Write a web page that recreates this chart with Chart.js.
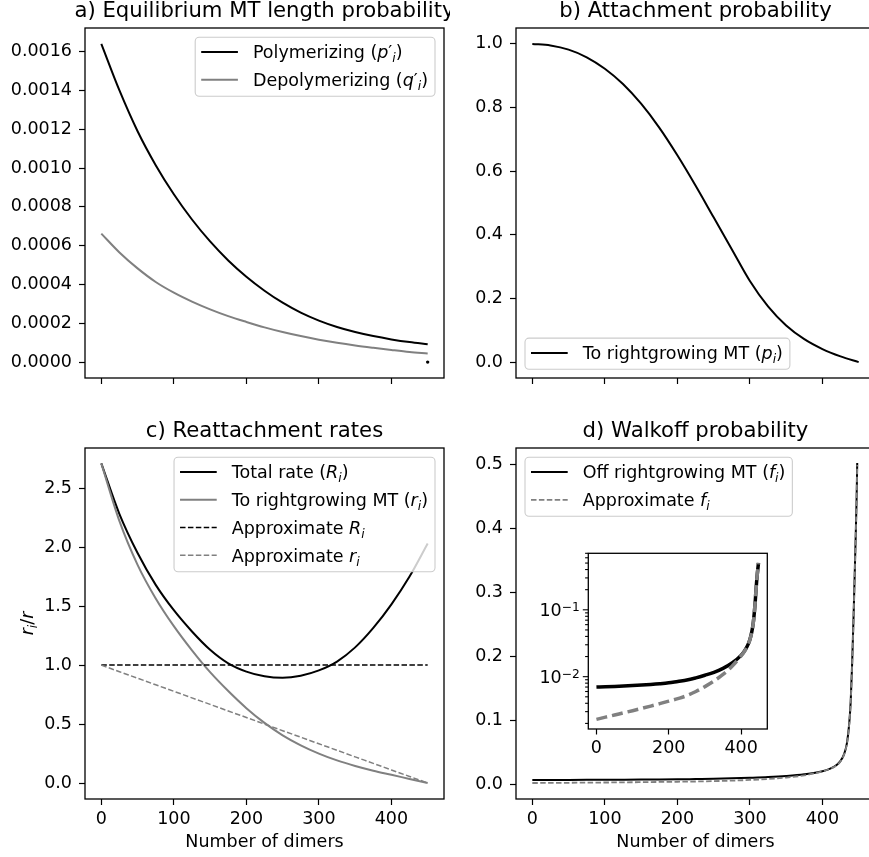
<!DOCTYPE html>
<html>
<head>
<meta charset="utf-8">
<title>MT probabilities</title>
<script src="https://cdn.jsdelivr.net/npm/chart.js@4/dist/chart.umd.min.js"></script>
<style>
html,body{margin:0;padding:0;background:#fff;}
body{width:869px;height:857px;overflow:hidden;}
#wrap{position:relative;width:869px;height:857px;overflow:hidden;background:#fff;}
#wrap canvas{position:absolute;display:block;}
</style>
</head>
<body>
<div id="wrap">
<canvas id="cA" width="450" height="420" style="left:0px;top:0px;width:450px;height:420px"></canvas>
<canvas id="cB" width="430" height="420" style="left:450px;top:0px;width:430px;height:420px"></canvas>
<canvas id="cC" width="450" height="437" style="left:0px;top:420px;width:450px;height:437px"></canvas>
<canvas id="cD" width="430" height="437" style="left:450px;top:420px;width:430px;height:437px"></canvas>
<canvas id="cI" width="260" height="220" style="left:520px;top:540px;width:260px;height:220px"></canvas>
</div>
<script>
// ---------------- data ----------------
const dimers = [0,25,50,75,100,125,150,175,200,225,250,275,300,325,350,375,400,425,450];
const xTicks = [0,100,200,300,400];
const insetXTicks = [0,200,400];

// a) equilibrium MT length probability
const polymerizing   = [0.00164,0.00140,0.00119,0.001015,0.000865,0.000735,0.000622,0.000524,0.00044,0.000368,0.000306,0.000255,0.000214,0.000181,0.000155,0.000134,0.000117,0.000103,0.000092];
const depolymerizing = [0.000662,0.000565,0.000483,0.000413,0.000358,0.000312,0.000272,0.000237,0.000207,0.000179,0.000155,0.000134,0.0001157,0.0000996,0.0000857,0.0000738,0.0000628,0.0000524,0.0000438];
const endDimer = [450];
const endValue = [0];

// b) attachment probability
const attachment = [1.000,0.995,0.982,0.958,0.922,0.874,0.812,0.737,0.650,0.555,0.455,0.355,0.255,0.175,0.115,0.072,0.041,0.018,0.000];

// c) reattachment rates
const totalRate       = [2.71,2.28,1.95,1.68,1.465,1.285,1.13,1.015,0.945,0.905,0.892,0.91,0.955,1.03,1.15,1.315,1.515,1.75,2.03];
const rightRate       = [2.71,2.22,1.85,1.565,1.33,1.125,0.94,0.78,0.635,0.51,0.405,0.32,0.25,0.192,0.145,0.105,0.07,0.035,0.0];
const approxTotalRate = [1,1,1,1,1,1,1,1,1,1,1,1,1,1,1,1,1,1,1];
const approxRightRate = [1.0,0.944,0.889,0.833,0.778,0.722,0.667,0.611,0.556,0.5,0.444,0.389,0.333,0.278,0.222,0.167,0.111,0.056,0.0];

// d) walkoff probability
const walkDimers    = [0,25,50,75,100,125,150,175,200,225,250,275,300,325,350,375,400,410,420,425,430,434,437,439,441,443,445,447,448];
const walkoff       = [0.0070,0.00707,0.00715,0.00724,0.00735,0.00748,0.00764,0.00784,0.0081,0.0085,0.0089,0.0096,0.0105,0.0116,0.0133,0.0160,0.0208,0.0245,0.031,0.037,0.048,0.066,0.096,0.130,0.190,0.265,0.350,0.440,0.503];
const approxWalkoff = [0.0023,0.00248,0.00267,0.00288,0.0031,0.00335,0.00363,0.00395,0.0043,0.0047,0.0052,0.0060,0.0071,0.0086,0.0108,0.0143,0.0205,0.0242,0.0305,0.0365,0.0475,0.0655,0.0955,0.129,0.188,0.263,0.348,0.438,0.500];

// tick labels
const ticksA = [0,0.0002,0.0004,0.0006,0.0008,0.0010,0.0012,0.0014,0.0016];
const ticksB = [0,0.2,0.4,0.6,0.8,1.0];
const ticksC = [0,0.5,1.0,1.5,2.0,2.5];
const ticksD = [0,0.1,0.2,0.3,0.4,0.5];
const insetMajor = [0.01,0.1];
const insetMinor = [0.002,0.003,0.004,0.005,0.006,0.007,0.008,0.009,0.02,0.03,0.04,0.05,0.06,0.07,0.08,0.09,0.2,0.3,0.4,0.5,0.6,0.7];

// ---------------- styling helpers ----------------
const FONT = '"DejaVu Sans", "Liberation Sans", sans-serif';
const FS = 17.5;
Chart.defaults.font.family = FONT;
Chart.defaults.font.size = FS;
Chart.defaults.color = '#000';
const GRAY = '#808080';
const X_MIN = -22.5, X_MAX = 472.5;

const T = t => ({t});
const I = t => ({t, it:true});
const S = t => ({t, it:true, sub:true});
const P = t => ({t, sup:true});

function setFont(ctx, size, italic){ ctx.font = (italic ? 'italic ' : '') + size + 'px ' + FONT; }
function partSize(p, fs){ return (p.sub || p.sup) ? fs*0.7 : fs; }
function richWidth(ctx, parts, fs){
  let w = 0;
  for (const p of parts){ setFont(ctx, partSize(p,fs), p.it); w += ctx.measureText(p.t).width; }
  return w;
}
function drawRich(ctx, parts, x, y, fs, align){
  const w = richWidth(ctx, parts, fs);
  if (align === 'center') x -= w/2; else if (align === 'right') x -= w;
  ctx.textAlign = 'left'; ctx.textBaseline = 'alphabetic';
  for (const p of parts){
    const s = partSize(p, fs);
    const dy = p.sub ? 0.22*fs : (p.sup ? -0.30*fs : 0);
    setFont(ctx, s, p.it);
    ctx.fillText(p.t, x, y + dy);
    x += ctx.measureText(p.t).width;
  }
}

const DECOR = {
  cA: {title:'a) Equilibrium MT length probability',
       legend:{loc:'upper right', items:[
         {ds:0, parts:[T('Polymerizing ('), I('p'), T('\u2032'), S('i'), T(')')]},
         {ds:1, parts:[T('Depolymerizing ('), I('q'), T('\u2032'), S('i'), T(')')]}]}},
  cB: {title:'b) Attachment probability',
       legend:{loc:'lower left', items:[
         {ds:0, parts:[T('To rightgrowing MT ('), I('p'), S('i'), T(')')]}]}},
  cC: {title:'c) Reattachment rates', xlabel:'Number of dimers',
       ylabel:[I('r'), S('i'), T('/'), I('r')],
       legend:{loc:'upper right', items:[
         {ds:0, parts:[T('Total rate ('), I('R'), S('i'), T(')')]},
         {ds:1, parts:[T('To rightgrowing MT ('), I('r'), S('i'), T(')')]},
         {ds:2, parts:[T('Approximate '), I('R'), S('i')]},
         {ds:3, parts:[T('Approximate '), I('r'), S('i')]}]}},
  cD: {title:'d) Walkoff probability', xlabel:'Number of dimers',
       legend:{loc:'upper left', items:[
         {ds:0, parts:[T('Off rightgrowing MT ('), I('f'), S('i'), T(')')]},
         {ds:1, parts:[T('Approximate '), I('f'), S('i')]}]}},
  cI: {inset:true}
};

function line(ctx, x1, y1, x2, y2){ ctx.beginPath(); ctx.moveTo(x1,y1); ctx.lineTo(x2,y2); ctx.stroke(); }
function roundRect(ctx, x, y, w, h, r){
  ctx.beginPath();
  ctx.moveTo(x+r, y); ctx.lineTo(x+w-r, y); ctx.arcTo(x+w, y, x+w, y+r, r);
  ctx.lineTo(x+w, y+h-r); ctx.arcTo(x+w, y+h, x+w-r, y+h, r);
  ctx.lineTo(x+r, y+h); ctx.arcTo(x, y+h, x, y+h-r, r);
  ctx.lineTo(x, y+r); ctx.arcTo(x, y, x+r, y, r); ctx.closePath();
}

const decorPlugin = {
  id:'decor',
  beforeDraw(chart){
    const d = DECOR[chart.canvas.id], ctx = chart.ctx, a = chart.chartArea;
    ctx.save(); ctx.fillStyle = '#fff';
    if (d.inset) ctx.fillRect(a.left, a.top, a.right-a.left, a.bottom-a.top);
    else ctx.fillRect(0, 0, chart.width, chart.height);
    ctx.restore();
  },
  afterDatasetsDraw(chart){
    const d = DECOR[chart.canvas.id]; if (!d.legend) return;
    const ctx = chart.ctx, a = chart.chartArea, lg = d.legend;
    ctx.save();
    const tw = Math.max(...lg.items.map(it => richWidth(ctx, it.parts, FS)));
    const w = 57.7 + tw + 7;
    const n = lg.items.length;
    const h = 14.8 + (n-1)*27.75 + 16.4;
    let x0, y0;
    if (lg.loc === 'upper right'){ x0 = a.right - 9 - w; y0 = a.top + 9.3; }
    else if (lg.loc === 'upper left'){ x0 = a.left + 9; y0 = a.top + 9.3; }
    else { x0 = a.left + 9; y0 = a.bottom - 8.7 - h; }
    roundRect(ctx, x0, y0, w, h, 4);
    ctx.fillStyle = 'rgba(255,255,255,0.8)'; ctx.fill();
    ctx.strokeStyle = '#cccccc'; ctx.lineWidth = 1.1; ctx.stroke();
    lg.items.forEach((it, k) => {
      const y = y0 + 14.8 + k*27.75;
      const ds = chart.data.datasets[it.ds];
      ctx.strokeStyle = ds.borderColor; ctx.lineWidth = ds.borderWidth;
      ctx.setLineDash(ds.borderDash || []);
      line(ctx, x0+6, y, x0+42.7, y);
      ctx.setLineDash([]);
      ctx.fillStyle = '#000';
      drawRich(ctx, it.parts, x0+57.7, y + 0.36*FS, FS, 'left');
    });
    ctx.restore();
  },
  afterDraw(chart){
    const d = DECOR[chart.canvas.id], ctx = chart.ctx, a = chart.chartArea;
    ctx.save();
    ctx.strokeStyle = '#000'; ctx.lineWidth = 1.3; ctx.setLineDash([]);
    ctx.strokeRect(a.left, a.top, a.right-a.left, a.bottom-a.top);
    ctx.fillStyle = '#000';
    if (d.title){
      setFont(ctx, 21.2, false); ctx.textAlign = 'center'; ctx.textBaseline = 'alphabetic';
      ctx.fillText(d.title, (a.left+a.right)/2, a.top - 10.7);
    }
    if (d.xlabel){
      setFont(ctx, FS, false); ctx.textAlign = 'center'; ctx.textBaseline = 'alphabetic';
      ctx.fillText(d.xlabel, (a.left+a.right)/2, a.bottom + 48);
    }
    if (d.ylabel){
      ctx.save();
      ctx.translate(27, (a.top+a.bottom)/2);
      ctx.rotate(-Math.PI/2);
      drawRich(ctx, d.ylabel, 0, 6, FS, 'center');
      ctx.restore();
    }
    if (d.inset){
      const ys = chart.scales.y;
      ctx.lineWidth = 1.1;
      for (const v of insetMinor){ const y = ys.getPixelForValue(v); line(ctx, a.left-3.2, y, a.left, y); }
      for (const v of insetMajor){
        const y = ys.getPixelForValue(v);
        line(ctx, a.left-5.5, y, a.left, y);
        const e = Math.round(Math.log10(v));
        drawRich(ctx, [T('10'), P('\u2212' + Math.abs(e))], a.left - 8.5, y + 6.3, FS, 'right');
      }
    }
    ctx.restore();
  }
};

function gridOpts(len){
  return {display:true, drawOnChartArea:false, drawTicks:true, tickLength:len, tickColor:'#000', tickWidth:1.2};
}
function xScale(g, tickVals, labels, tl){
  return {
    type:'linear', position:'bottom', min:X_MIN, max:X_MAX,
    afterBuildTicks: s => { s.ticks = tickVals.map(v => ({value:v})); },
    afterFit: s => { s.height = g.H - g.B; s.paddingLeft = 0; s.paddingRight = 0; },
    ticks:{autoSkip:false, maxRotation:0, minRotation:0, padding:3.5, color:'#000', font:{size:FS},
           callback: labels ? (v => String(v)) : (() => '')},
    grid: gridOpts(tl || 6), border:{display:false}
  };
}
function yScale(g, min, max, tickVals, dec){
  return {
    type:'linear', position:'left', min, max,
    afterBuildTicks: s => { s.ticks = tickVals.map(v => ({value:v})); },
    afterFit: s => { s.width = g.L; s.paddingTop = 0; s.paddingBottom = 0; },
    ticks:{autoSkip:false, padding:7, color:'#000', font:{size:FS}, callback: v => Number(v).toFixed(dec)},
    grid: gridOpts(6), border:{display:false}
  };
}
const pts = (xs, ys) => xs.map((x, k) => ({x, y: ys[k]}));
function series(label, xs, ys, color, width, dash, order){
  return {label, data: pts(xs, ys), borderColor: color, backgroundColor: color, borderWidth: width,
          borderDash: dash || [], fill:false, pointRadius:0, tension:0.4,
          cubicInterpolationMode:'monotone', order};
}
function makeChart(id, g, datasets, scales){
  return new Chart(document.getElementById(id), {
    type:'line',
    data:{datasets},
    options:{
      responsive:false, maintainAspectRatio:false, animation:false, devicePixelRatio:1, events:[],
      layout:{padding:{left:0, top:g.T, right:g.W - g.R, bottom:0}},
      plugins:{legend:{display:false}, tooltip:{enabled:false}, title:{display:false}},
      scales
    },
    plugins:[decorPlugin]
  });
}

const DASH = [5.5, 2.4];

// a)
const gA = {W:450, H:420, L:85, T:28, R:444, B:378};
makeChart('cA', gA, [
  series('Polymerizing (p\u2032i)', dimers, polymerizing, '#000', 2, null, 0),
  series('Depolymerizing (q\u2032i)', dimers, depolymerizing, GRAY, 2, null, -1),
  {label:'end', data: pts(endDimer, endValue), showLine:false, pointRadius:1.7,
   pointBackgroundColor:'#000', pointBorderWidth:0, borderColor:'#000', order:-2}
], {x: xScale(gA, xTicks, false), y: yScale(gA, -0.000082, 0.001722, ticksA, 4)});

// b)
const gB = {W:430, H:420, L:66, T:28, R:425, B:378};
makeChart('cB', gB, [
  series('To rightgrowing MT (pi)', dimers, attachment, '#000', 2, null, 0)
], {x: xScale(gB, xTicks, false), y: yScale(gB, -0.05, 1.05, ticksB, 1)});

// c)
const gC = {W:450, H:437, L:85, T:28, R:444, B:379};
makeChart('cC', gC, [
  series('Total rate (Ri)', dimers, totalRate, '#000', 2, null, 0),
  series('To rightgrowing MT (ri)', dimers, rightRate, GRAY, 2, null, -1),
  series('Approximate Ri', dimers, approxTotalRate, '#000', 1.5, DASH, -2),
  series('Approximate ri', dimers, approxRightRate, GRAY, 1.5, DASH, -3)
], {x: xScale(gC, xTicks, true), y: yScale(gC, -0.135, 2.84, ticksC, 1)});

// d)
const gD = {W:430, H:437, L:66, T:28, R:425, B:379};
makeChart('cD', gD, [
  series('Off rightgrowing MT (fi)', walkDimers, walkoff, '#000', 2, null, 0),
  series('Approximate fi', walkDimers, approxWalkoff, GRAY, 1.8, DASH, -1)
], {x: xScale(gD, xTicks, true), y: yScale(gD, -0.0227, 0.5265, ticksD, 1)});

// inset of d) (log scale)
const gI = {W:260, H:220, L:68.3, T:13.3, R:247.3, B:189};
makeChart('cI', gI, [
  series('Off rightgrowing MT (fi)', walkDimers, walkoff, '#000', 3.5, null, 0),
  series('Approximate fi', walkDimers, approxWalkoff, GRAY, 3.5, [11, 5], -1)
], {
  x: xScale(gI, insetXTicks, true, 5.5),
  y: {type:'logarithmic', position:'left', min:0.00165, max:0.70,
      afterBuildTicks: s => { s.ticks = insetMajor.map(v => ({value:v, major:true})); },
      afterFit: s => { s.width = gI.L; s.paddingTop = 0; s.paddingBottom = 0; },
      ticks:{display:false}, grid:{display:false}, border:{display:false}}
});
</script>
</body>
</html>
